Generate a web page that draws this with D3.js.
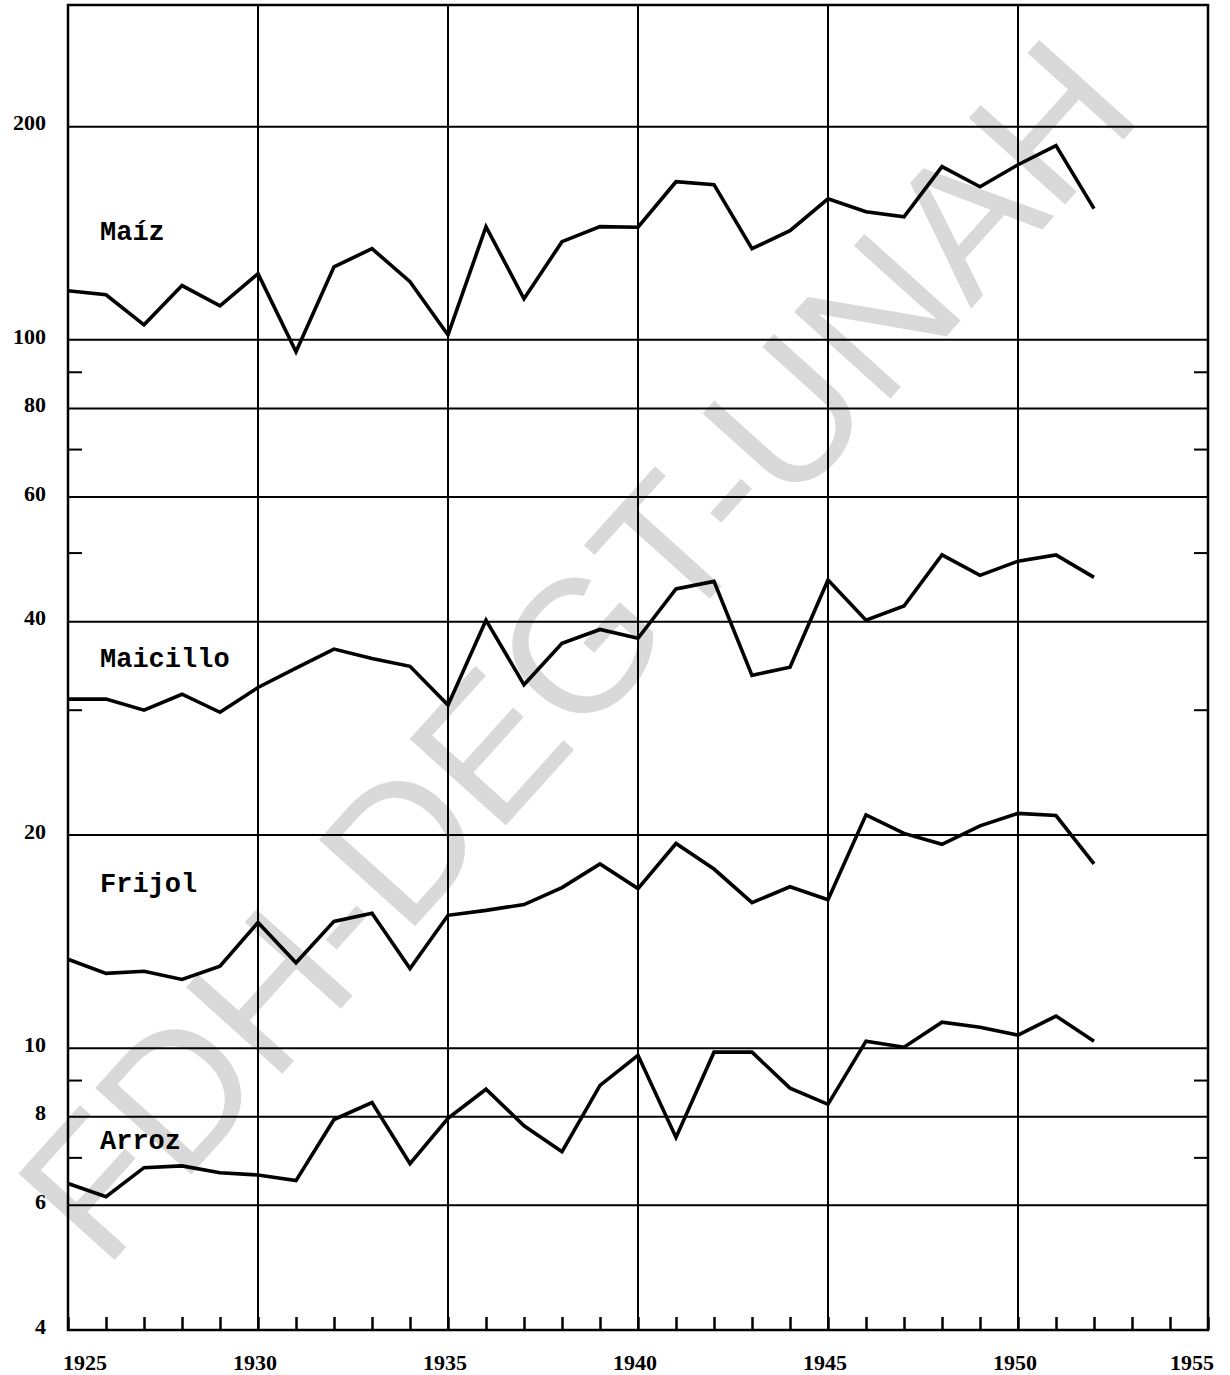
<!DOCTYPE html>
<html>
<head>
<meta charset="utf-8">
<script src="https://cdn.jsdelivr.net/npm/d3@7"></script>
<style>
  body { margin: 0; background: #fff; }
  text.num { font-family: "Liberation Serif", "DejaVu Serif", serif; font-weight: bold; font-size: 22px; }
  text.serie { font-family: "Liberation Mono", "DejaVu Sans Mono", monospace; font-weight: bold; font-size: 27px; }
  text.marca { font-family: "Liberation Sans", Arial, sans-serif; font-size: 188px; fill: #d9d9d9; }
</style>
</head>
<body>
<svg id="chart" width="1230" height="1375"></svg>
<script>
// años 1925-1952
const years = [1925, 1926, 1927, 1928, 1929, 1930, 1931, 1932, 1933, 1934,
               1935, 1936, 1937, 1938, 1939, 1940, 1941, 1942, 1943, 1944,
               1945, 1946, 1947, 1948, 1949, 1950, 1951, 1952];

const maiz = [117.3, 115.8, 105.0, 119.3, 111.7, 124.0, 96.2, 126.8, 134.5, 120.8,
              101.6, 144.5, 114.3, 137.6, 144.5, 144.2, 167.2, 165.6, 134.5, 142.6,
              158.2, 151.7, 149.2, 175.6, 164.5, 176.7, 188.0, 153.2];
const maicillo = [31.1, 31.1, 30.0, 31.6, 29.8, 32.3, 34.4, 36.6, 35.5, 34.6,
                  30.5, 40.2, 32.6, 37.3, 39.0, 37.9, 44.5, 45.6, 33.6, 34.5,
                  45.8, 40.2, 42.1, 49.7, 46.5, 48.7, 49.7, 46.2];
const frijol = [13.35, 12.75, 12.84, 12.5, 13.05, 15.05, 13.2, 15.1, 15.5, 12.95,
                15.4, 15.65, 15.95, 16.85, 18.2, 16.8, 19.45, 17.9, 16.05, 16.9,
                16.2, 21.35, 20.1, 19.4, 20.6, 21.45, 21.3, 18.2];
const arroz = [6.44, 6.17, 6.78, 6.82, 6.67, 6.62, 6.50, 7.93, 8.38, 6.87,
               7.96, 8.75, 7.77, 7.14, 8.86, 9.77, 7.48, 9.87, 9.87, 8.78,
               8.33, 10.23, 10.03, 10.88, 10.70, 10.43, 11.10, 10.23];

const names = ['Maíz', 'Maicillo', 'Frijol', 'Arroz'];

const yTicks = [200, 100, 80, 60, 40, 20, 10, 8, 6, 4];
const yMinor = [90, 70, 50, 30, 9, 7];
const xTicks = [1925, 1930, 1935, 1940, 1945, 1950, 1955];

const series = [maiz, maicillo, frijol, arroz].map((v, i) => ({ name: names[i], values: v }));
// donde va cada nombre (en unidades del gráfico)
const labelAt = [138.4, 34.5, 16.6, 7.21];

const svg = d3.select('#chart');
const x = d3.scaleLinear().domain([1925, 1955]).range([68, 1208]);
const y = d3.scaleLog().domain([4, 297]).range([1330, 5]);
const [x0, x1] = x.range();
const [y0, y1] = y.range();

// marca de agua
svg.append('text')
    .attr('class', 'marca')
    .attr('text-anchor', 'middle')
    .attr('dominant-baseline', 'middle')
    .attr('transform', 'translate(588,660) rotate(-48)')
    .text('FDH-DEGT-UNAH');

// rejilla horizontal
svg.append('g')
    .selectAll('line')
    .data(yTicks.filter(d => d !== 4))
    .enter().append('line')
    .attr('x1', x0).attr('x2', x1)
    .attr('y1', d => y(d)).attr('y2', d => y(d))
    .attr('stroke', '#000').attr('stroke-width', 2);

// rejilla vertical
svg.append('g')
    .selectAll('line')
    .data(xTicks.slice(1, -1))
    .enter().append('line')
    .attr('x1', d => x(d)).attr('x2', d => x(d))
    .attr('y1', y1).attr('y2', y0)
    .attr('stroke', '#000').attr('stroke-width', 2);

// marcas menores a los lados
let minor = svg.append('g').attr('stroke', '#000').attr('stroke-width', 2);
minor.selectAll('line.l')
    .data(yMinor)
    .enter().append('line')
    .attr('class', 'l')
    .attr('x1', x0).attr('x2', x0 + 14)
    .attr('y1', d => y(d)).attr('y2', d => y(d));
minor.selectAll('line.r')
    .data(yMinor)
    .enter().append('line')
    .attr('class', 'r')
    .attr('x1', x1 - 14).attr('x2', x1)
    .attr('y1', d => y(d)).attr('y2', d => y(d));

// marcas anuales abajo
svg.append('g')
    .attr('transform', 'translate(0,' + y0 + ')')
    .call(d3.axisTop(x).ticks(30).tickSize(13).tickFormat(''))
    .call(g => g.select('.domain').remove())
    .call(g => g.selectAll('.tick line').attr('stroke-width', 2.5));

// marco
svg.append('rect')
    .attr('x', x0).attr('y', y1)
    .attr('width', x1 - x0).attr('height', y0 - y1)
    .attr('fill', 'none').attr('stroke', '#000').attr('stroke-width', 2.5);

// etiquetas del eje y
svg.append('g')
    .selectAll('text')
    .data(yTicks)
    .enter().append('text')
    .attr('class', 'num')
    .attr('text-anchor', 'end')
    .attr('x', 46)
    .attr('y', d => y(d) - 4)
    .attr('dy', '0.35em')
    .text(d => d);

// etiquetas del eje x
svg.append('g')
    .selectAll('text')
    .data(xTicks)
    .enter().append('text')
    .attr('class', 'num')
    .attr('text-anchor', 'middle')
    .attr('x', (d, i) => x(d) + (i === 0 ? 17 : i === xTicks.length - 1 ? -16 : -3))
    .attr('y', 1370)
    .text(d => d);

// series
const line = d3.line()
    .x((d, i) => x(years[i]))
    .y(d => y(d));

svg.append('g')
    .selectAll('path')
    .data(series)
    .enter().append('path')
    .attr('d', d => line(d.values))
    .attr('fill', 'none')
    .attr('stroke', '#000')
    .attr('stroke-width', 3.6)
    .attr('stroke-linejoin', 'miter');

svg.append('g')
    .selectAll('text')
    .data(series)
    .enter().append('text')
    .attr('class', 'serie')
    .attr('x', x0 + 32)
    .attr('y', (d, i) => y(labelAt[i]))
    .text(d => d.name);
</script>
</body>
</html>
